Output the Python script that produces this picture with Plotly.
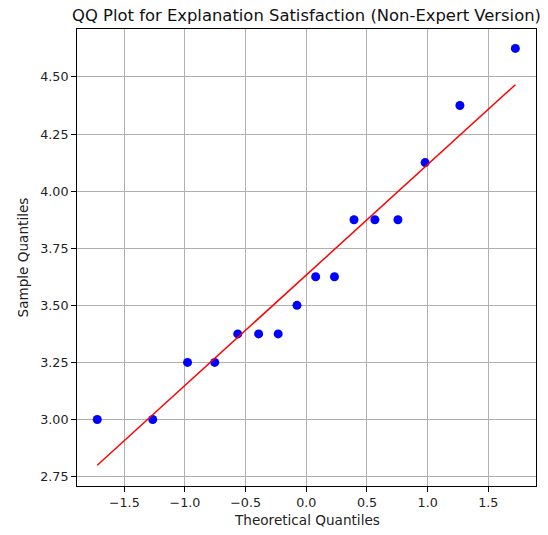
import numpy as np
import plotly.graph_objects as go

# Data
theoretical_quantiles = [-1.723, -1.266, -0.979, -0.755, -0.565, -0.393, -0.232, -0.077,
                         0.077, 0.232, 0.393, 0.565, 0.755, 0.979, 1.266, 1.723]
sample_quantiles = [3.0, 3.0, 3.25, 3.25, 3.375, 3.375, 3.375, 3.5,
                    3.625, 3.625, 3.875, 3.875, 3.875, 4.125, 4.375, 4.625]
x_ticks = [-1.5, -1.0, -0.5, 0.0, 0.5, 1.0, 1.5]
y_ticks = [2.75, 3.00, 3.25, 3.50, 3.75, 4.00, 4.25, 4.50]

x = np.array(theoretical_quantiles)
y = np.array(sample_quantiles)
slope, intercept = np.polyfit(x, y, 1)
fit = slope * x + intercept

FONT = "DejaVu Sans"

fig = go.Figure()
fig.add_trace(go.Scatter(x=x, y=y, mode="markers",
                         marker=dict(color="#0000ff", size=9, line=dict(width=0)),
                         showlegend=False))
fig.add_trace(go.Scatter(x=[x[0], x[-1]], y=[fit[0], fit[-1]], mode="lines",
                         line=dict(color="#ff0000", width=1.5), showlegend=False))

axis_common = dict(showgrid=True, gridcolor="#b0b0b0", gridwidth=0.8,
                   showline=True, linecolor="black", linewidth=1, mirror=True,
                   ticks="outside", ticklen=5, tickwidth=1, tickcolor="black",
                   zeroline=False, tickfont=dict(family=FONT, size=12.7, color="#222"))

fig.update_layout(
    width=548, height=535,
    margin=dict(l=77, r=12, t=29, b=49),
    paper_bgcolor="white", plot_bgcolor="white",
    font=dict(family=FONT, color="#222"),
    title=dict(text="QQ Plot for Explanation Satisfaction (Non-Expert Version)",
               font=dict(family=FONT, size=16.4, color="#111"),
               x=0.5, xref="paper", xanchor="center",
               y=1 - 15 / 535, yref="container", yanchor="middle"),
    xaxis=dict(range=[-1.89, 1.893], tickvals=x_ticks,
               ticktext=[f"{v:.1f}".replace("-", "\u2212") for v in x_ticks],
               **axis_common),
    yaxis=dict(range=[2.709, 4.71], tickvals=y_ticks,
               ticktext=[f"{v:.2f}" for v in y_ticks],
               **axis_common),
    annotations=[
        dict(text="Theoretical Quantiles", xref="paper", yref="paper", x=0.5, y=0,
             xanchor="center", yanchor="middle", yshift=-34, showarrow=False,
             font=dict(family=FONT, size=13.6, color="#222")),
        dict(text="Sample Quantiles", xref="paper", yref="paper", x=0, y=0.5,
             xanchor="center", yanchor="middle", xshift=-55, textangle=-90, showarrow=False,
             font=dict(family=FONT, size=13.6, color="#222")),
    ],
)

fig.write_html("out.html", config={"displayModeBar": False},
               post_script="document.body.style.margin='0';")
